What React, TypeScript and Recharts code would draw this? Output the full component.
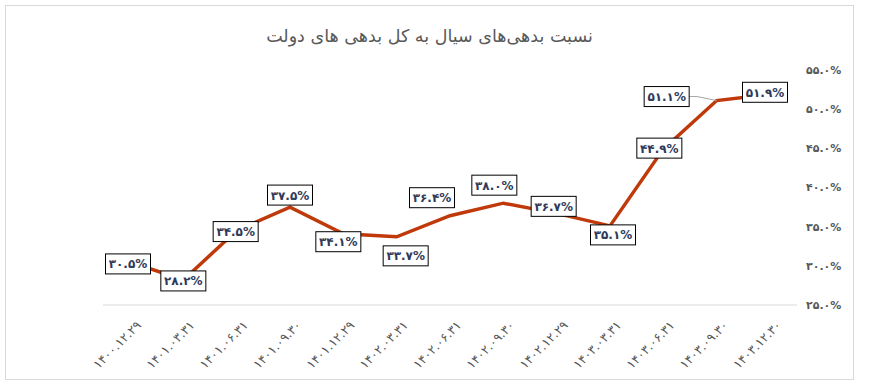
import { LineChart, Line, XAxis, YAxis, LabelList } from 'recharts'

// quarter-end dates (Solar Hijri)
const dates = [
  '۱۴۰۰.۱۲.۲۹', '۱۴۰۱.۰۳.۳۱', '۱۴۰۱.۰۶.۳۱', '۱۴۰۱.۰۹.۳۰', '۱۴۰۱.۱۲.۲۹',
  '۱۴۰۲.۰۳.۳۱', '۱۴۰۲.۰۶.۳۱', '۱۴۰۲.۰۹.۳۰', '۱۴۰۲.۱۲.۲۹', '۱۴۰۳.۰۳.۳۱',
  '۱۴۰۳.۰۶.۳۱', '۱۴۰۳.۰۹.۳۰', '۱۴۰۳.۱۲.۳۰',
]
// share of floating debt in total government debt, percent
const shares = [30.5, 28.2, 34.5, 37.5, 34.1, 33.7, 36.4, 38.0, 36.7, 35.1, 44.9, 51.1, 51.9]
const yTicks = [25, 30, 35, 40, 45, 50, 55]

// where each label box sits relative to its point (as placed in the original)
const labelNudge: [number, number][] = [
  [-2, 2], [0, 1], [-1, 1], [0, -12], [-5, 8], [9, 19], [-18, -18],
  [-9, -18], [-3, -7], [3, 9], [-4, -1], [-50, -4], [-5, -2],
]

const data = dates.map((d, i) => ({ date: d, share: shares[i] }))

const FONT = '"DejaVu Sans", sans-serif'
const faDigits = '۰۱۲۳۴۵۶۷۸۹'
const toFa = (s: string) => s.replace(/\d/g, c => faDigits[+c])
const pct = (v: number) => toFa(v.toFixed(1)) + '%'

function DateTick(props: any) {
  const { x, y, payload } = props
  return (
    <text
      x={x + 12}
      y={y + 13}
      transform={`rotate(-45 ${x + 12} ${y + 13})`}
      textAnchor="end"
      fill="#595959"
      fontSize={12.5}
      fontFamily={FONT}
    >
      {payload.value}
    </text>
  )
}

function BoxLabel(props: any) {
  const { x, y, value, index } = props
  const [dx, dy] = labelNudge[index]
  const cx = x + dx
  const cy = y + dy
  const w = 45
  const h = 20
  return (
    <g>
      {index === 11 && (
        <polyline
          points={`${cx + w / 2},${cy} ${cx + w / 2 + 8},${cy} ${x},${y}`}
          fill="none"
          stroke="#a6a6a6"
          strokeWidth={1}
        />
      )}
      <rect x={cx - w / 2} y={cy - h / 2} width={w} height={h} fill="#fff" stroke="#000" strokeWidth={1} />
      <text
        x={cx}
        y={cy + 4.5}
        textAnchor="middle"
        fontSize={12}
        fontWeight="bold"
        fill="#2f3a5a"
        fontFamily={FONT}
      >
        {pct(value)}
      </text>
    </g>
  )
}

export default function App() {
  return (
    <div style={{ position: 'relative', width: 877, height: 392, background: '#fff' }}>
      <style>{'body{margin:0}'}</style>
      <div
        style={{
          position: 'absolute',
          left: 5,
          top: 5,
          width: 847,
          height: 373,
          border: '1px solid #d9d9d9',
        }}
      />
      <div
        style={{
          position: 'absolute',
          left: 5,
          top: 26,
          width: 849,
          textAlign: 'center',
          fontFamily: FONT,
          fontSize: 17.5,
          color: '#595959',
          direction: 'rtl',
        }}
      >
        نسبت بدهی‌های سیال به کل بدهی های دولت
      </div>
      <div style={{ position: 'absolute', left: 0, top: 0 }}>
        <LineChart width={877} height={392} data={data} margin={{ top: 70, right: 30, left: 103, bottom: 27 }}>
          <XAxis
            dataKey="date"
            interval={0}
            height={60}
            padding={{ left: 27, right: 27 }}
            axisLine={{ stroke: '#d9d9d9' }}
            tickLine={false}
            tick={<DateTick />}
          />
          <YAxis
            orientation="right"
            domain={[25, 55]}
            ticks={yTicks}
            width={50}
            axisLine={false}
            tickLine={false}
            tickSize={0}
            tickMargin={9}
            tickFormatter={(v: number) => pct(v)}
            tick={{ fill: '#595959', fontSize: 11, fontWeight: 'bold', fontFamily: FONT, textAnchor: 'start' }}
          />
          <Line
            type="linear"
            dataKey="share"
            stroke="#c0390b"
            strokeWidth={3.5}
            dot={false}
            isAnimationActive={false}
          >
            <LabelList dataKey="share" content={<BoxLabel />} />
          </Line>
        </LineChart>
      </div>
    </div>
  )
}
